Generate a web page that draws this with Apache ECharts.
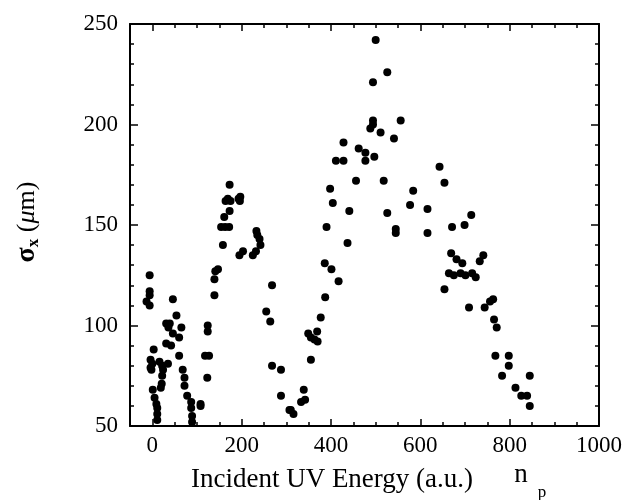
<!DOCTYPE html>
<html>
<head>
<meta charset="utf-8">
<script src="https://cdn.jsdelivr.net/npm/echarts@6/dist/echarts.min.js"></script>
<style>
  html, body { margin: 0; padding: 0; background: #fff; }
  #chart { width: 624px; height: 500px; }
</style>
</head>
<body>
<div id="chart"></div>
<script>
// points, [energy, sigma_x]
var lowCluster = [
  [-6,125],[-6,117],[-6,115],[-13,112],[-6,110],
  [3,88],[-4,83],[0,81],[-4,79],[-2,78],
  [1,68],[5,64],[9,61],[11,59],[11,56],[11,53],
  [16,82],[22,80],[24,78],[22,75],[21,71],[19,69],[35,81],
  [31,101],[39,101],[36,99],[46,96],[54,105],[46,113],
  [65,99],[60,94],[31,91],[42,90],[60,85],
  [68,78],[72,74],[72,70],[78,65],[87,62],[87,59],[89,55],[89,52],
  [108,61],[108,60]
];
var firstPeak = [
  [124,100],[124,97],[118,85],[127,85],[123,74],
  [139,123],[139,115],[141,127],[147,128],
  [173,170],[164,162],[169,163],[175,162],[193,163],[197,164],[196,162],
  [173,157],[161,154],[154,149],[163,149],[172,149],[158,140],
  [233,147],[235,145],[240,143],[242,140],[203,137],[195,135],[232,137],[225,135],
  [268,120],[255,107],[264,102],[268,80],[288,78],[288,65],[307,58]
];
var rise = [
  [310,58],[316,56],[333,62],[342,63],[339,68],[355,83],[349,96],[355,94],
  [363,93],[369,97],[370,92],[377,104],[387,114],[386,131],[401,128],[417,122],
  [390,149],[398,168],[404,161],[437,141],[441,157]
];
var topPeak = [
  [411,182],[428,182],[428,191],[456,172],[462,188],[477,186],[477,182],[497,184],
  [488,198],[494,200],[494,202],[494,221],[500,242],[526,226],[511,196],[518,172],
  [526,156],[541,193],[545,148],[545,146],[556,202],[577,160],[584,167],[616,158],
  [616,146],[643,179],[654,171]
];
var fall = [
  [654,118],[664,126],[675,125],[690,126],[701,125],[716,126],[724,124],
  [671,149],[669,136],[681,133],[694,131],[699,150],[714,155],[733,132],[741,135],
  [709,109],[744,109],[756,112],[763,113],[765,103],[771,99],
  [768,85],[798,85],[798,80],[783,75],[845,75],[813,69],[826,65],[839,65],[845,60]
];
var xLabels = [0, 200, 400, 600, 800, 1000];

var font = 'Liberation Serif';
var black = '#000';

function xAxisOf(pos, major) {
  return {
    type: 'value', position: pos, min: -50, max: 1000, interval: 50,
    splitLine: { show: false },
    axisLine: { show: major, onZero: false, lineStyle: { color: black, width: 2 } },
    axisTick: major
      ? { inside: true, length: 7, customValues: xLabels, lineStyle: { color: black, width: 1.5 } }
      : { inside: true, length: 4, lineStyle: { color: black, width: 1.5 } },
    axisLabel: (major && pos === 'bottom')
      ? { customValues: xLabels, formatter: function (v) { return String(v); },
          color: black, fontFamily: font, fontSize: 23, margin: 8 }
      : { show: false }
  };
}
function yAxisOf(pos) {
  return {
    type: 'value', position: pos, min: 50, max: 250, interval: 50,
    splitLine: { show: false },
    axisLine: { show: true, onZero: false, lineStyle: { color: black, width: 2 } },
    axisTick: { inside: true, length: 8, lineStyle: { color: black, width: 1.5 } },
    minorTick: { show: true, splitNumber: 5, length: 4, lineStyle: { color: black, width: 1.5 } },
    minorSplitLine: { show: false },
    axisLabel: pos === 'left'
      ? { color: black, fontFamily: font, fontSize: 23, margin: 12 }
      : { show: false }
  };
}

var chart = echarts.init(document.getElementById('chart'));
chart.setOption({
  animation: false,
  backgroundColor: '#fff',
  grid: { left: 130, right: 25, top: 24, bottom: 74, outerBoundsMode: 'none' },
  xAxis: [xAxisOf('bottom', true), xAxisOf('bottom', false), xAxisOf('top', true), xAxisOf('top', false)],
  yAxis: [yAxisOf('left'), yAxisOf('right')],
  series: [{
    type: 'scatter',
    xAxisIndex: 0,
    yAxisIndex: 0,
    symbol: 'circle',
    symbolSize: 8,
    itemStyle: { color: black, opacity: 1 },
    data: [].concat(lowCluster, firstPeak, rise, topPeak, fall)
  }],
  graphic: [
    { type: 'text', x: 332, y: 480,
      style: { text: 'Incident UV Energy (a.u.)', font: '27px "Liberation Serif"', fill: black, align: 'center', verticalAlign: 'middle' } },
    { type: 'text', x: 521, y: 475,
      style: { text: 'n', font: '27px "Liberation Serif"', fill: black, align: 'center', verticalAlign: 'middle' } },
    { type: 'text', x: 542, y: 493,
      style: { text: 'p', font: '17px "Liberation Serif"', fill: black, align: 'center', verticalAlign: 'middle' } },
    { type: 'text', x: 27, y: 222, rotation: Math.PI / 2,
      style: {
        text: '{s|σ}{x|x} ({m|μ}m)',
        font: '26px "Liberation Serif"', fill: black, align: 'center', verticalAlign: 'middle',
        rich: {
          s: { fontFamily: font, fontSize: 28, fontWeight: 'bold', lineHeight: 30 },
          x: { fontFamily: font, fontSize: 17, fontWeight: 'bold', lineHeight: 14, verticalAlign: 'bottom' },
          m: { fontFamily: font, fontSize: 26, fontStyle: 'italic', lineHeight: 30 }
        }
      } }
  ]
});
</script>
</body>
</html>
